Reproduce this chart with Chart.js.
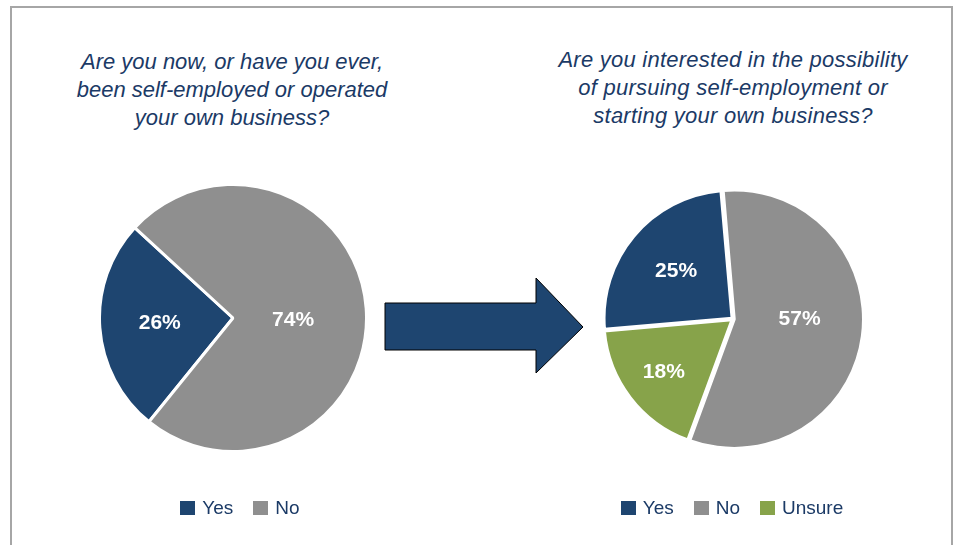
<!DOCTYPE html>
<html>
<head>
<meta charset="utf-8">
<script src="https://cdn.jsdelivr.net/npm/chart.js@4.4.1/dist/chart.umd.min.js"></script>
<style>
  html, body { margin: 0; padding: 0; background: #fff; }
  body { width: 961px; height: 545px; position: relative; overflow: hidden; font-family: "Liberation Sans", Arial, sans-serif; }
  #frame { position: absolute; left: 10px; top: 6px; width: 943px; height: 600px; border: 2px solid #a6a6a6; box-sizing: border-box; }
  .title { position: absolute; width: 420px; text-align: center; font-style: italic; font-size: 22px; line-height: 28px; color: #1b3a66; }
  .legend { position: absolute; display: flex; justify-content: center; align-items: center; width: 400px; font-size: 19px; color: #1b3a66; }
  .legend span.item { display: inline-flex; align-items: center; margin: 0 10px; }
  .legend span.box { display: inline-block; width: 15px; height: 14px; margin-right: 7px; }
  canvas { position: absolute; }
</style>
</head>
<body>
<div id="frame"></div>

<div class="title" id="titleLeft" style="left:22px; top:48px;"></div>
<div class="title" id="titleRight" style="left:523px; top:46px; letter-spacing:0.25px;"></div>

<canvas id="pieLeft" width="270" height="270" style="left:98px; top:183px;"></canvas>
<canvas id="pieRight" width="264" height="264" style="left:601px; top:187px;"></canvas>

<svg style="position:absolute; left:0; top:0;" width="961" height="545">
  <polygon points="385,303 536,303 536,278 583,327 536,373 536,350 385,350"
           fill="#1e4570" stroke="#000" stroke-width="1"/>
</svg>

<div class="legend" id="legendLeft" style="left:40px; top:497px;"></div>
<div class="legend" id="legendRight" style="left:532px; top:497px;"></div>

<script>
// chart data
const leftTitle = ['Are you now, or have you ever,', 'been self-employed or operated', 'your own business?'];
const leftCategories = ['Yes', 'No'];
const leftValues = [26, 74];

const rightTitle = ['Are you interested in the possibility', 'of pursuing self-employment or', 'starting your own business?'];
const rightCategories = ['Yes', 'No', 'Unsure'];
const rightValues = [25, 57, 18];

const colorFor = { Yes: '#1e4570', No: '#8f8f8f', Unsure: '#87a34a' };

// percent labels drawn inside the slices
const pctLabels = {
  id: 'pctLabels',
  afterDatasetsDraw(chart, args, opts) {
    const ctx = chart.ctx;
    const meta = chart.getDatasetMeta(0);
    const values = chart.data.datasets[0].data;
    ctx.save();
    ctx.font = 'bold 21px "Liberation Sans", Arial, sans-serif';
    ctx.fillStyle = '#ffffff';
    ctx.textAlign = 'center';
    ctx.textBaseline = 'middle';
    meta.data.forEach((arc, i) => {
      const p = arc.getProps(['x', 'y', 'startAngle', 'endAngle', 'outerRadius'], true);
      // small angular nudge (degrees) so labels sit where Excel put them
      const a = (p.startAngle + p.endAngle) / 2 + (opts.nudge[i] || 0) * Math.PI / 180;
      const d = p.outerRadius * opts.pos[i];
      ctx.fillText(values[i] + '%', p.x + Math.cos(a) * d, p.y + Math.sin(a) * d);
    });
    ctx.restore();
  }
};

function makePie(id, cats, vals, rotation, offset, pos, nudge) {
  return new Chart(document.getElementById(id), {
    type: 'pie',
    data: {
      labels: cats,
      datasets: [{
        data: vals,
        backgroundColor: cats.map(c => colorFor[c]),
        borderColor: '#ffffff',
        borderWidth: 3,
        offset: offset
      }]
    },
    options: {
      responsive: false,
      animation: false,
      events: [],
      rotation: rotation,
      layout: { padding: 0 },
      plugins: {
        legend: { display: false },
        tooltip: { enabled: false },
        pctLabels: { pos: pos, nudge: nudge }
      }
    },
    plugins: [pctLabels]
  });
}

makePie('pieLeft', leftCategories, leftValues, 219, 0, [0.55, 0.45], [0, 6]);
makePie('pieRight', rightCategories, rightValues, 265, 5, [0.58, 0.52, 0.68], [0, -7.5, 0]);

function fillTitle(id, lines) {
  document.getElementById(id).innerHTML = lines.join('<br>');
}
fillTitle('titleLeft', leftTitle);
fillTitle('titleRight', rightTitle);

function fillLegend(id, cats) {
  const el = document.getElementById(id);
  cats.forEach(c => {
    const item = document.createElement('span');
    item.className = 'item';
    item.innerHTML = '<span class="box" style="background:' + colorFor[c] + '"></span>' + c;
    el.appendChild(item);
  });
}
fillLegend('legendLeft', leftCategories);
fillLegend('legendRight', rightCategories);
</script>
</body>
</html>
